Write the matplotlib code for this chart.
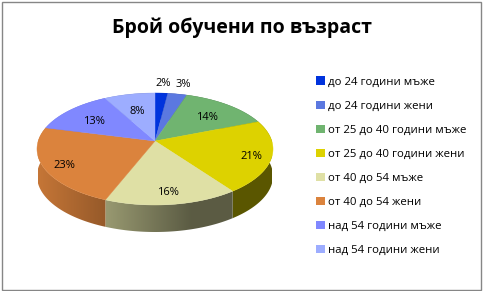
import numpy as np
import matplotlib
matplotlib.use("Agg")
import matplotlib.pyplot as plt
from matplotlib.patches import Patch, Polygon, Rectangle

TITLE = "Брой обучени по възраст"
categories = [
    "до 24 години мъже",
    "до 24 години жени",
    "от 25 до 40 години мъже",
    "от 25 до 40 години жени",
    "от 40 до 54 мъже",
    "от 40 до 54 жени",
    "над 54 години мъже",
    "над 54 години жени",
]
values = [2, 3, 14, 21, 16, 23, 13, 8]
colors = ["#0033DD", "#5B78E0", "#70B470", "#DDD200", "#DFE0A5", "#DB833D", "#8088FF", "#9DADFF"]
label_radius = [1.3, 1.3, 0.7, 0.83, 0.8, 0.82, 0.7, 0.66]

# pie geometry in pixels, tilted with a small perspective
CX, CY = 155, 141
RX = 116.8
RY = 54.86
PERSP = 1 / 7
DEPTH = 27

plt.rcParams["font.family"] = ["Open Sans", "DejaVu Sans"]


def project(angle, radius=1.0):
    # angle in degrees, clockwise from the top
    u = radius * np.sin(np.radians(angle))
    v = radius * np.cos(np.radians(angle))
    w = 1 + PERSP * v
    return CX + RX * u / w, CY - RY * v / w


def side_gradient(color):
    # one row image, darker towards the right of the pie
    t = np.linspace(0, 1, 240)
    factor = np.maximum(0.41, 0.9 - 0.75 * t)
    return np.outer(factor, matplotlib.colors.to_rgb(color))[np.newaxis, :, :]


fig = plt.figure(figsize=(4.83, 2.91), dpi=100)
ax = fig.add_axes([0, 0, 1, 1])
ax.axis("off")

ax.add_patch(Rectangle((1.5, 1.5), 479.5, 288, fill=False, edgecolor="#868686", linewidth=1))

edges = np.concatenate([[0], np.cumsum(values)]) / sum(values) * 360

# side wall first, the top face hides the back part of it
for start, end, color in zip(edges[:-1], edges[1:], colors):
    angles = np.linspace(start, end, max(int(end - start), 2) + 1)
    xs, ys = project(angles)
    outline = list(zip(xs, ys)) + list(zip(xs[::-1], ys[::-1] + DEPTH))
    wall = Polygon(outline, closed=True, facecolor="none", edgecolor="none")
    ax.add_patch(wall)
    image = ax.imshow(
        side_gradient(color),
        extent=(CX - RX, CX + RX, 260, 60),
        aspect="auto",
        interpolation="bilinear",
    )
    image.set_clip_path(wall)

for start, end, color in zip(edges[:-1], edges[1:], colors):
    angles = np.linspace(start, end, max(int(end - start), 2) + 1)
    xs, ys = project(angles)
    pts = [(CX, CY)] + list(zip(xs, ys))
    ax.add_patch(Polygon(pts, closed=True, facecolor=color, edgecolor=color, linewidth=0.3))

for i, value in enumerate(values):
    mid = (edges[i] + edges[i + 1]) / 2
    x, y = project(mid, label_radius[i])
    ax.text(x, y + 2.5, f"{value}%", ha="center", va="center", fontsize=8, color="black")

ax.text(241.5, 28, TITLE, ha="center", va="center", fontsize=14, fontweight="bold", color="black")

ax.set_xlim(0, 483)
ax.set_ylim(291, 0)

handles = [Patch(facecolor=c, edgecolor="none") for c in colors]
ax.legend(
    handles,
    categories,
    loc="upper left",
    bbox_to_anchor=(316 / 483, 1 - 76.5 / 291),
    borderaxespad=0,
    borderpad=0,
    frameon=False,
    fontsize=8.2,
    handlelength=0.78,
    handleheight=0.78,
    handletextpad=0.3,
    labelspacing=1.12,
)

fig.savefig("out.png", dpi=100)
